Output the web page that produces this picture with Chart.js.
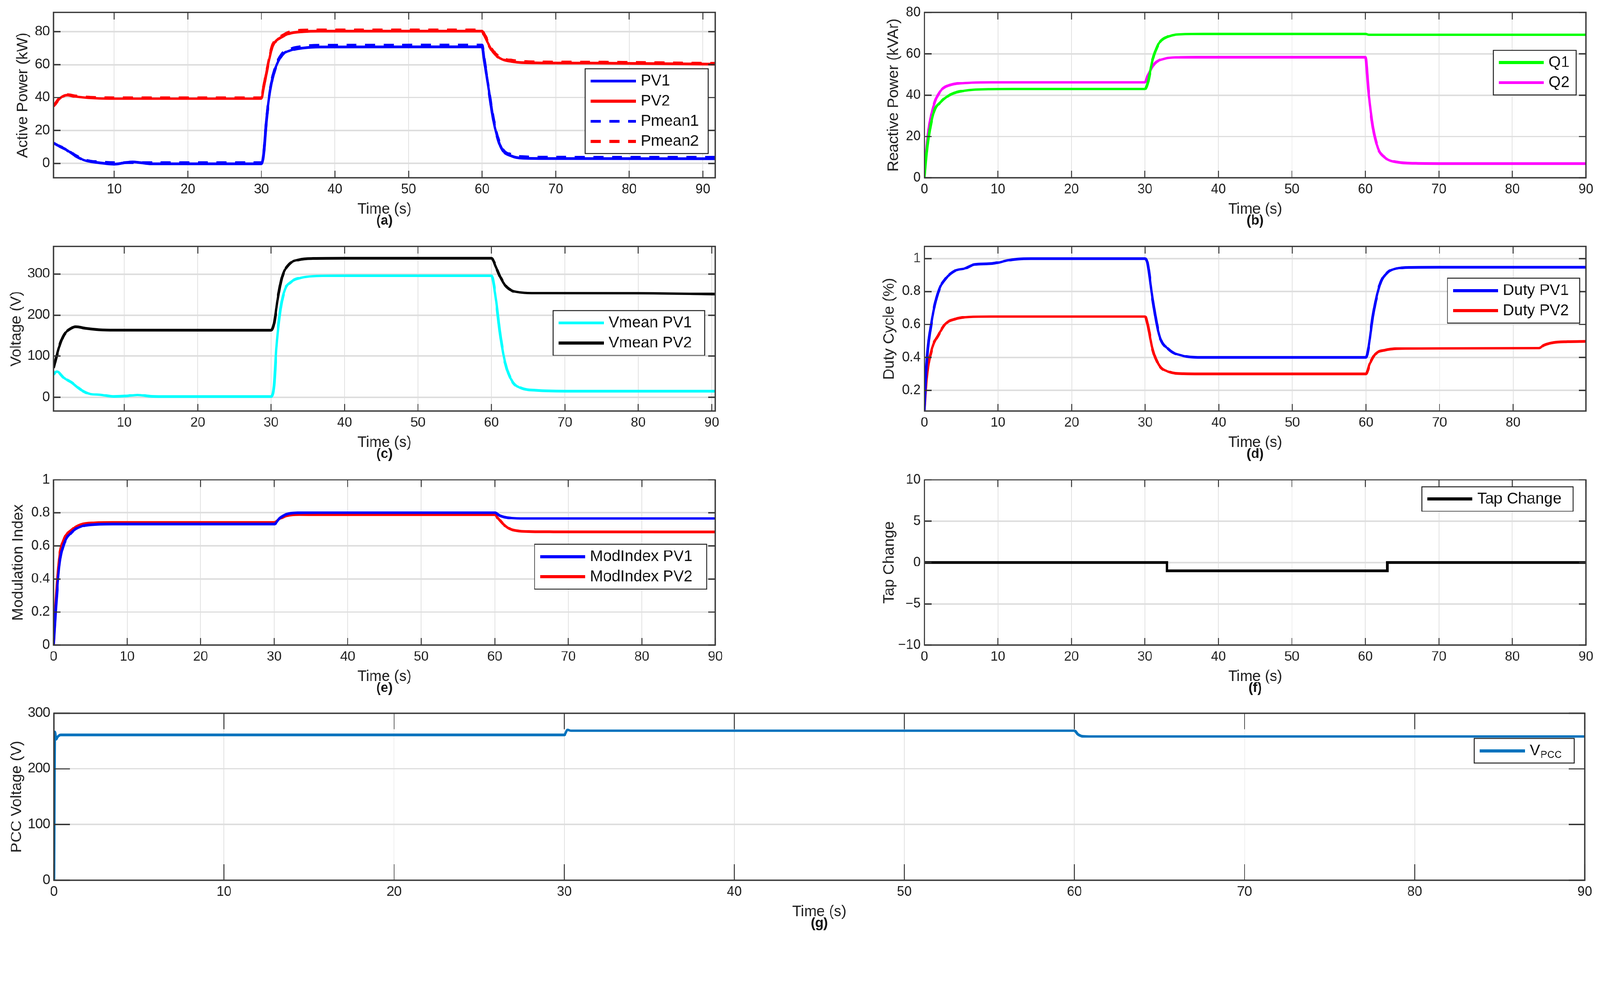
<!DOCTYPE html>
<html><head><meta charset="utf-8">
<script src="https://cdn.jsdelivr.net/npm/chart.js@4.4.1/dist/chart.umd.min.js"></script>
<style>
html,body{margin:0;padding:0;background:#fff;overflow:hidden;}
#wrap{position:absolute;left:0;top:0;width:4301px;height:2516px;overflow:hidden;background:#fff;transform-origin:0 0;}
canvas{position:absolute;}
</style></head>
<body><div id="wrap"></div>
<script>
// ---------------- DATA ----------------
// (a) Active power (kW)
const pv1T = [1.75, 2.5, 3.5, 4.8, 6.1, 8, 10, 11.5, 12.5, 13.5, 15, 30, 30.3, 30.7, 31.2, 31.9, 32.8, 33.8, 35.7, 38, 60, 60.3, 60.9, 61.5, 62.2, 62.8, 64.1, 65.4, 68, 91.7];
const pv1V = [12.3, 10.5, 8.3, 4.4, 1.75, 0.4, -0.4, 0.5, 0.9, 0.5, -0.2, -0.2, 5, 27, 44.7, 57.8, 65.7, 68.4, 70.1, 70.7, 70.8, 62, 44.7, 27, 14, 7.9, 4.4, 3.3, 3.1, 3.0];
const pm1T = [1.75, 2.5, 3.5, 4.8, 6.1, 8, 10, 15, 30, 30.3, 30.7, 31.2, 31.9, 32.8, 33.8, 35.7, 38, 60, 60.3, 60.9, 61.5, 62.2, 62.8, 64.1, 65.4, 68, 91.7];
const pm1V = [12.5, 10.7, 8.5, 4.8, 2.2, 1.0, 0.5, 0.5, 0.5, 5.5, 27.5, 45.5, 58.6, 66.6, 69.3, 71.1, 71.7, 71.8, 63, 45.5, 28, 15, 8.8, 5.2, 4.2, 3.9, 3.8];
const pv2T = [1.75, 2.5, 3.2, 3.7, 4.5, 6, 8, 10, 30, 30.3, 30.6, 31, 31.5, 32, 32.5, 33.8, 35.7, 38, 60, 60.2, 60.6, 61, 61.5, 62.1, 62.8, 64.1, 65.4, 68, 75, 91.7];
const pv2V = [34.6, 39, 41.2, 41.5, 40.8, 40, 39.5, 39.4, 39.4, 46, 53, 62, 71, 74.5, 76, 78.9, 80, 80.3, 80.3, 78.5, 75, 71, 67.5, 64.8, 63, 61.8, 61.2, 61, 60.9, 60.3];
const pm2T = [1.75, 2.5, 3.2, 3.7, 4.5, 6, 8, 10, 30, 30.3, 30.6, 31, 31.5, 32, 32.5, 33.8, 35.7, 38, 60, 60.2, 60.6, 61, 61.5, 62.1, 62.8, 64.1, 65.4, 68, 75, 91.7];
const pm2V = [35, 39.5, 41.6, 41.8, 41.2, 40.5, 40.1, 40, 40, 46.5, 53.5, 62.7, 71.8, 75.3, 76.9, 79.8, 80.9, 81, 81, 79.3, 75.8, 71.8, 68.3, 65.6, 63.8, 62.6, 62, 61.6, 61.5, 60.8];

// (b) Reactive power (kVAr)
const q1T = [0, 0.3, 0.65, 1.3, 2.3, 3.6, 5.5, 8.7, 12, 30, 30.4, 31, 31.5, 32, 33.3, 35.2, 38, 60, 60.5, 90];
const q1V = [0, 12, 21.6, 32, 37, 40.4, 42.2, 42.9, 43, 43, 46, 56.5, 62, 65.6, 68.5, 69.5, 69.6, 69.6, 69.2, 69.2];
const q2T = [0, 0.3, 0.65, 1.3, 2.3, 3.6, 6.1, 9, 30, 30.4, 31.3, 32.6, 34.6, 37, 60, 60.4, 61, 61.7, 62.7, 64.3, 66.9, 70, 90];
const q2V = [0, 14, 25, 35.5, 42.5, 45, 46, 46.2, 46.2, 49.5, 55.2, 57.6, 58.3, 58.4, 58.4, 42.5, 25, 14.5, 9.7, 7.6, 7, 6.9, 6.9];

// (c) Voltage (V)
const vm1T = [0.37, 0.8, 1.8, 2.8, 4.06, 5.35, 6.6, 8.6, 10.2, 11.8, 13.7, 16, 30, 30.4, 30.7, 31.2, 31.8, 32.8, 34.1, 35.7, 40, 60, 60.6, 61.2, 61.9, 62.8, 64.1, 66.1, 70, 90.5];
const vm1V = [55.6, 62.6, 46.8, 36.2, 18.6, 8, 6.3, 1.8, 2.8, 5.6, 2, 1.5, 1.5, 29, 117, 205, 258, 282, 291, 294.7, 296, 296, 240, 152, 82, 39.7, 22, 16.9, 15, 15];
const vm2T = [0.37, 1.15, 1.8, 2.76, 3.4, 4.7, 6.6, 8.6, 30, 30.4, 30.9, 31.5, 32.5, 33.8, 35.7, 40, 60, 60.6, 61.2, 61.9, 62.8, 64.1, 66.1, 80, 90.5];
const vm2V = [71.4, 124, 152, 168, 171.6, 168, 164.6, 163.6, 163.5, 180, 240, 293, 324.6, 335, 338, 338.5, 338.5, 317.6, 293, 272, 259.6, 255, 253.6, 253.5, 251];

// (d) Duty cycle
const dpv1T = [0, 0.3, 1, 1.9, 2.9, 4.2, 5.5, 6.8, 8.7, 10, 11.3, 12.6, 14.5, 30, 30.3, 31, 31.9, 33.2, 35.2, 37.1, 60, 60.3, 61, 61.9, 62.9, 64.2, 66.1, 70, 89.9];
const dpv1V = [0.075, 0.36, 0.624, 0.8, 0.879, 0.927, 0.94, 0.964, 0.968, 0.975, 0.989, 0.997, 1.0, 1.0, 0.975, 0.756, 0.536, 0.449, 0.409, 0.4, 0.4, 0.449, 0.668, 0.844, 0.914, 0.94, 0.947, 0.948, 0.948];
const dpv2T = [0, 0.3, 1, 1.9, 2.9, 4.2, 6.1, 9, 30, 30.3, 31, 31.9, 33.2, 35.2, 38, 60, 60.5, 61.3, 62.6, 64.2, 70, 83.5, 84.2, 85.5, 87.4, 89.9];
const dpv2V = [0.075, 0.273, 0.449, 0.536, 0.606, 0.633, 0.646, 0.648, 0.648, 0.606, 0.449, 0.352, 0.313, 0.301, 0.3, 0.3, 0.36, 0.422, 0.444, 0.453, 0.455, 0.457, 0.475, 0.49, 0.495, 0.497];

// (e) Modulation index
const mi1T = [0, 0.3, 0.77, 1.4, 2.4, 3.7, 5.6, 8, 30, 30.8, 31.7, 33.4, 36, 60, 60.7, 61.7, 63, 66, 90];
const mi1V = [0, 0.22, 0.48, 0.61, 0.68, 0.717, 0.73, 0.733, 0.733, 0.77, 0.792, 0.8, 0.801, 0.801, 0.783, 0.772, 0.767, 0.766, 0.766];
const mi2T = [0, 0.3, 0.77, 1.4, 2.4, 3.7, 5.6, 8, 30, 30.8, 31.7, 33.4, 36, 60, 60.4, 61.1, 62, 63.4, 65, 68, 90];
const mi2V = [0, 0.26, 0.525, 0.64, 0.695, 0.73, 0.74, 0.742, 0.742, 0.766, 0.783, 0.79, 0.789, 0.789, 0.77, 0.735, 0.704, 0.69, 0.687, 0.686, 0.685];

// (f) Tap change
const tapT = [0, 33, 33, 63, 63, 90];
const tapV = [0, 0, -1, -1, 0, 0];

// (g) PCC voltage (V)
const vpccT = [0, 0.05, 0.12, 0.2, 0.4, 0.8, 30, 30.2, 30.4, 31, 60, 60.2, 60.5, 61, 90];
const vpccV = [0, 266, 253, 257, 261, 261, 261, 270, 268.5, 268.5, 268.5, 262, 258.5, 258, 258];

// tick values
const xTicksFull = [0, 10, 20, 30, 40, 50, 60, 70, 80, 90];
const xTicksFrom10 = [10, 20, 30, 40, 50, 60, 70, 80, 90];
const xTicksTo80 = [0, 10, 20, 30, 40, 50, 60, 70, 80];
const yTicksA = [0, 20, 40, 60, 80];
const yTicksB = [0, 20, 40, 60, 80];
const yTicksC = [0, 100, 200, 300];
const yTicksD = [0.2, 0.4, 0.6, 0.8, 1];
const yTicksE = [0, 0.2, 0.4, 0.6, 0.8, 1];
const yTicksF = [-10, -5, 0, 5, 10];
const yTicksG = [0, 100, 200, 300];

// ---------------- LAYOUT / STYLE ----------------
const FONT = "'Liberation Sans', Arial, Helvetica, sans-serif";
Chart.defaults.font.family = FONT;
Chart.defaults.color = '#222';
const DASH = [27, 23];

const panels = [
  { tag: '(a)', ytitle: 'Active Power (kW)', canvas: [0, 2, 1990, 623], plot: [144, 26, 1923, 478], ytx: 61, tick: 19,
    xMin: 1.75, xMax: 91.7, yMin: -8.7, yMax: 91.6, xt: xTicksFrom10, yt: yTicksA, legend: [1573, 185, 331],
    series: [
      { label: 'PV1', t: pv1T, v: pv1V, color: '#0000ff' },
      { label: 'PV2', t: pv2T, v: pv2V, color: '#ff0000' },
      { label: 'Pmean1', t: pm1T, v: pm1V, color: '#0000ff', dash: DASH },
      { label: 'Pmean2', t: pm2T, v: pm2V, color: '#ff0000', dash: DASH } ] },
  { tag: '(b)', ytitle: 'Reactive Power (kVAr)', canvas: [2300, 2, 4301, 623], plot: [2485, 26, 4263, 478], ytx: 2402, tick: 19,
    xMin: 0, xMax: 90, yMin: 0, yMax: 80, xt: xTicksFull, yt: yTicksB, legend: [4014, 135, 223],
    series: [
      { label: 'Q1', t: q1T, v: q1V, color: '#00ff00' },
      { label: 'Q2', t: q2T, v: q2V, color: '#ff00ff' } ] },
  { tag: '(c)', ytitle: 'Voltage (V)', canvas: [0, 631, 1990, 1250], plot: [144, 655, 1923, 1105], ytx: 44, tick: 19,
    xMin: 0.37, xMax: 90.5, yMin: -33.8, yMax: 367, xt: xTicksFrom10, yt: yTicksC, legend: [1487, 835, 407],
    series: [
      { label: 'Vmean PV1', t: vm1T, v: vm1V, color: '#00ffff' },
      { label: 'Vmean PV2', t: vm2T, v: vm2V, color: '#000000' } ] },
  { tag: '(d)', ytitle: 'Duty Cycle (%)', canvas: [2300, 631, 4301, 1250], plot: [2485, 655, 4263, 1105], ytx: 2390, tick: 19,
    xMin: 0, xMax: 89.88, yMin: 0.074, yMax: 1.073, xt: xTicksTo80, yt: yTicksD, legend: [3891, 748, 355],
    series: [
      { label: 'Duty PV1', t: dpv1T, v: dpv1V, color: '#0000ff' },
      { label: 'Duty PV2', t: dpv2T, v: dpv2V, color: '#ff0000' } ] },
  { tag: '(e)', ytitle: 'Modulation Index', canvas: [0, 1258, 1990, 1879], plot: [144, 1282, 1923, 1734], ytx: 49, tick: 19,
    xMin: 0, xMax: 90, yMin: 0, yMax: 1, xt: xTicksFull, yt: yTicksE, legend: [1437, 1463, 463],
    series: [
      { label: 'ModIndex PV1', t: mi1T, v: mi1V, color: '#0000ff' },
      { label: 'ModIndex PV2', t: mi2T, v: mi2V, color: '#ff0000' } ] },
  { tag: '(f)', ytitle: 'Tap Change', canvas: [2300, 1258, 4301, 1879], plot: [2485, 1282, 4263, 1734], ytx: 2390, tick: 19,
    xMin: 0, xMax: 90, yMin: -10, yMax: 10, xt: xTicksFull, yt: yTicksF, legend: [3822, 1308, 407],
    series: [
      { label: 'Tap Change', t: tapT, v: tapV, color: '#000000', straight: true } ] },
  { tag: '(g)', ytitle: 'PCC Voltage (V)', canvas: [0, 1885, 4301, 2511], plot: [145, 1909, 4260, 2366], ytx: 45, tick: 43,
    xMin: 0, xMax: 90, yMin: 0, yMax: 300, xt: xTicksFull, yt: yTicksG, legend: [3963, 1985, 269],
    series: [
      { label: 'V_PCC', t: vpccT, v: vpccV, color: '#0072bd' } ] }
];

// ---------------- PLUGIN (MATLAB-like box, inward ticks, legend, subfigure tag) ----------------
const matPlugin = {
  id: 'matFrame',
  afterDatasetsDraw(chart, args, o) {
    const ctx = chart.ctx, a = chart.chartArea;
    const xs = chart.scales.x, ys = chart.scales.y;
    const L = o.tick;
    ctx.save();
    ctx.strokeStyle = '#333';
    ctx.lineWidth = 2.5;
    xs.ticks.forEach(t => {
      const px = xs.getPixelForValue(t.value);
      ctx.beginPath();
      ctx.moveTo(px, a.bottom); ctx.lineTo(px, a.bottom - L);
      ctx.moveTo(px, a.top); ctx.lineTo(px, a.top + L);
      ctx.stroke();
    });
    ctx.lineWidth = 3.5;
    ys.ticks.forEach(t => {
      const py = ys.getPixelForValue(t.value);
      ctx.beginPath();
      ctx.moveTo(a.left, py); ctx.lineTo(a.left + L, py);
      ctx.moveTo(a.right, py); ctx.lineTo(a.right - L, py);
      ctx.stroke();
    });
    ctx.lineWidth = 3.5;
    ctx.strokeStyle = '#3a3a3a';
    ctx.strokeRect(a.left, a.top, a.right - a.left, a.bottom - a.top);
    ctx.restore();
  },
  afterDraw(chart, args, o) {
    const ctx = chart.ctx, a = chart.chartArea;
    ctx.save();
    const ds = chart.data.datasets;
    const lx = o.lx, ly = o.ly, lw = o.lw;
    const lh = ds.length * 54 + 12;
    ctx.fillStyle = '#fff';
    ctx.fillRect(lx, ly, lw, lh);
    ctx.strokeStyle = '#222';
    ctx.lineWidth = 2.5;
    ctx.strokeRect(lx, ly, lw, lh);
    ds.forEach((d, i) => {
      const cy = ly + 33 + 54 * i;
      ctx.strokeStyle = d.borderColor;
      ctx.lineWidth = 8;
      ctx.setLineDash(d.borderDash && d.borderDash.length ? d.borderDash : []);
      ctx.beginPath(); ctx.moveTo(lx + 15, cy); ctx.lineTo(lx + 136, cy); ctx.stroke();
      ctx.setLineDash([]);
      ctx.fillStyle = '#111';
      ctx.textBaseline = 'middle';
      ctx.textAlign = 'left';
      const parts = String(d.label).split('_');
      ctx.font = '42px ' + FONT;
      ctx.fillText(parts[0], lx + 149, cy);
      if (parts[1]) {
        const w0 = ctx.measureText(parts[0]).width;
        ctx.font = '27px ' + FONT;
        ctx.fillText(parts[1], lx + 149 + w0 + 1, cy + 12);
      }
    });
    ctx.font = 'bold 36px ' + FONT;
    ctx.fillStyle = '#111';
    ctx.textAlign = 'center';
    ctx.textBaseline = 'middle';
    ctx.fillText(o.tag, (a.left + a.right) / 2, a.bottom + 116);
    ctx.restore();
  }
};

// ---------------- BUILD ----------------
const wrap = document.getElementById('wrap');
const k = Math.min(window.innerWidth / 4301, window.innerHeight / 2516) || 1;
wrap.style.transform = 'scale(' + k + ')';

function fmt(v) {
  const r = Math.round(v * 1000) / 1000;
  return r < 0 ? '\u2212' + Math.abs(r) : String(r);
}
panels.forEach(p => {
  const [cl, ct, cr, cb] = p.canvas;
  const [pl, pt, pr, pb] = p.plot;
  const W = cr - cl, H = cb - ct;
  const c = document.createElement('canvas');
  c.width = W; c.height = H;
  c.style.left = cl + 'px'; c.style.top = ct + 'px';
  c.style.width = W + 'px'; c.style.height = H + 'px';
  wrap.appendChild(c);
  const xt = p.xt, yt = p.yt;
  new Chart(c, {
    type: 'line',
    data: {
      datasets: p.series.map(s => ({
        label: s.label,
        data: s.t.map((t, i) => ({ x: t, y: s.v[i] })),
        borderColor: s.color,
        backgroundColor: s.color,
        borderWidth: 7,
        borderDash: s.dash || [],
        pointRadius: 0,
        fill: false,
        tension: 0,
        cubicInterpolationMode: s.straight ? 'default' : 'monotone'
      }))
    },
    options: {
      responsive: false,
      animation: false,
      devicePixelRatio: 1,
      events: [],
      layout: { padding: { left: 0, top: pt - ct, right: cr - pr, bottom: 0 } },
      plugins: {
        legend: { display: false },
        tooltip: { enabled: false },
        matFrame: { lx: p.legend[0] - cl, ly: p.legend[1] - ct, lw: p.legend[2], tag: p.tag, tick: p.tick }
      },
      scales: {
        x: {
          type: 'linear', min: p.xMin, max: p.xMax,
          afterBuildTicks: s => { s.ticks = xt.map(v => ({ value: v })); },
          ticks: { autoSkip: false, maxRotation: 0,
                   font: { size: 36 }, color: '#222', padding: 10, callback: v => fmt(v) },
          grid: { color: '#e2e2e2', lineWidth: 2, drawTicks: false },
          border: { display: false },
          title: { display: true, text: 'Time (s)', font: { size: 40 }, color: '#222',
                   padding: { top: 0, bottom: (cb - pb) - 85 - 24 } },
          afterFit: s => { s.height = cb - pb; }
        },
        y: {
          type: 'linear', min: p.yMin, max: p.yMax,
          afterBuildTicks: s => { s.ticks = yt.map(v => ({ value: v })); },
          ticks: { autoSkip: false,
                   font: { size: 36 }, color: '#222', padding: 10, callback: v => fmt(v) },
          grid: { color: '#dedede', lineWidth: 4, drawTicks: false },
          border: { display: false },
          title: { display: true, text: p.ytitle, font: { size: 41 }, color: '#222',
                   padding: { top: p.ytx - cl - 24, bottom: 0 } },
          afterFit: s => { s.width = pl - cl; }
        }
      }
    },
    plugins: [matPlugin]
  });
});
</script>
</body></html>
